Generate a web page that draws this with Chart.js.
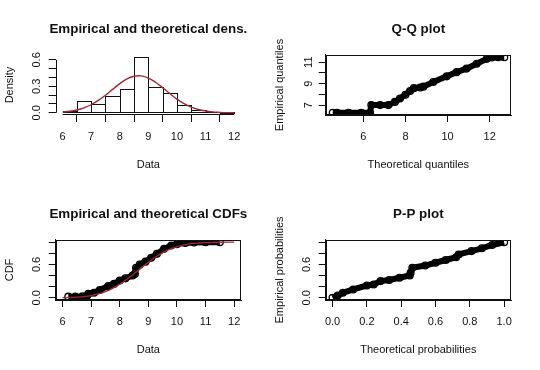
<!DOCTYPE html>
<html>
<head>
<meta charset="utf-8">
<script src="https://cdn.jsdelivr.net/npm/chart.js@4.4.1/dist/chart.umd.min.js"></script>
<style>
  html, body { margin: 0; padding: 0; background: #fff; }
  #wrap { position: relative; width: 540px; height: 370px; background: #fff; }
  canvas { position: absolute; }
</style>
</head>
<body>
<div id="wrap">
  <canvas id="c1" width="270" height="185" style="left:0;top:0"></canvas>
  <canvas id="c2" width="270" height="185" style="left:270px;top:0"></canvas>
  <canvas id="c3" width="270" height="185" style="left:0;top:185px"></canvas>
  <canvas id="c4" width="270" height="185" style="left:270px;top:185px"></canvas>
</div>
<script>
// ---------- Panel 1: histogram + theoretical density ----------
const histBinCenters = [6.25, 6.75, 7.25, 7.75, 8.25, 8.75, 9.25, 9.75, 10.25, 10.75, 11.25, 11.75];
const histDensity    = [0.016, 0.129, 0.098, 0.186, 0.265, 0.630, 0.288, 0.227, 0.084, 0.031, 0.010, 0];
const densCurveX = [6, 6.25, 6.5, 6.75, 7, 7.25, 7.5, 7.75, 8, 8.25, 8.5, 8.75, 9, 9.25, 9.5, 9.75, 10, 10.25, 10.5, 10.75, 11, 11.25, 11.5, 11.75, 12];
const densCurveY = [0.008, 0.017, 0.032, 0.056, 0.091, 0.140, 0.199, 0.265, 0.330, 0.383, 0.414, 0.418, 0.394, 0.346, 0.284, 0.218, 0.155, 0.104, 0.064, 0.037, 0.020, 0.010, 0.005, 0.002, 0.001];
const densXTicks  = [6, 7, 8, 9, 10, 11, 12];
const densXLabels = ['6', '7', '8', '9', '10', '11', '12'];
const densYTicks  = [0, 0.1, 0.2, 0.3, 0.4, 0.5, 0.6];
const densYLabels = ['0.0', '', '', '0.3', '', '', '0.6'];

// ---------- Panel 2: Q-Q plot ----------
const qqTheoretical = [4.55, 4.75, 5.3, 5.9, 6.32, 6.38, 6.8, 7.19, 7.5, 7.74, 8.0, 8.22, 8.4, 8.7, 8.85, 9.32, 9.96, 10.43, 10.9, 11.38, 11.86, 12.1, 12.4, 12.69];
const qqEmpirical   = [6.29, 6.29, 6.29, 6.29, 6.29, 7.0, 7.0, 7.0, 7.3, 7.62, 7.97, 8.32, 8.58, 8.64, 8.72, 9.15, 9.68, 10.07, 10.4, 10.85, 11.31, 11.44, 11.46, 11.46];
const qqXTicks  = [6, 8, 10, 12];
const qqXLabels = ['6', '8', '10', '12'];
const qqYTicks  = [7, 8, 9, 10, 11];
const qqYLabels = ['7', '', '9', '', '11'];

// ---------- Panel 3: empirical and theoretical CDFs ----------
const cdfEmpX = [6.2, 6.45, 6.7, 6.85, 6.9, 7.1, 7.3, 7.6, 7.8, 8.0, 8.2, 8.45, 8.53, 8.57, 8.7, 8.9, 9.1, 9.3, 9.55, 9.8, 10.0, 10.3, 10.6, 11.0, 11.5];
const cdfEmpY = [0.02, 0.02, 0.025, 0.03, 0.07, 0.09, 0.14, 0.21, 0.25, 0.31, 0.35, 0.40, 0.43, 0.54, 0.60, 0.65, 0.72, 0.79, 0.88, 0.94, 0.965, 0.985, 0.995, 1.0, 1.0];
const cdfTheoX = [6, 6.25, 6.5, 6.75, 7, 7.25, 7.5, 7.75, 8, 8.25, 8.5, 8.75, 9, 9.25, 9.5, 9.75, 10, 10.25, 10.5, 10.75, 11, 11.5, 12];
const cdfTheoY = [0.003, 0.006, 0.012, 0.022, 0.040, 0.069, 0.111, 0.169, 0.244, 0.333, 0.433, 0.538, 0.640, 0.733, 0.812, 0.874, 0.921, 0.953, 0.974, 0.986, 0.993, 0.999, 1.0];
const cdfXTicks  = [6, 7, 8, 9, 10, 11, 12];
const cdfXLabels = ['6', '7', '8', '9', '10', '11', '12'];
const probYTicks  = [0, 0.2, 0.4, 0.6, 0.8, 1.0];
const probYLabels = ['0.0', '', '', '0.6', '', ''];

// ---------- Panel 4: P-P plot ----------
const ppTheoretical = [0, 0.03, 0.06, 0.12, 0.2, 0.24, 0.28, 0.33, 0.39, 0.45, 0.455, 0.465, 0.54, 0.6, 0.66, 0.72, 0.735, 0.81, 0.87, 0.93, 1.0];
const ppEmpirical   = [0, 0.04, 0.09, 0.15, 0.22, 0.24, 0.30, 0.32, 0.36, 0.40, 0.45, 0.54, 0.58, 0.63, 0.68, 0.73, 0.78, 0.84, 0.89, 0.95, 1.0];
const ppXTicks  = [0, 0.2, 0.4, 0.6, 0.8, 1.0];
const ppXLabels = ['0.0', '0.2', '0.4', '0.6', '0.8', '1.0'];

// ---------- titles ----------
const titles = ['Empirical and theoretical dens.', 'Q-Q plot', 'Empirical and theoretical CDFs', 'P-P plot'];
const xTitles = ['Data', 'Theoretical quantiles', 'Data', 'Theoretical probabilities'];
const yTitles = ['Density', 'Empirical quantiles', 'CDF', 'Empirical probabilities'];

// ---------- style ----------
const FONT = '"Liberation Sans", Arial, Helvetica, sans-serif';
const INK = '#111';
const RED = '#A0283A';

const toXY = (xs, ys) => xs.map((x, i) => ({ x: x, y: ys[i] }));

// lets the (plot-centred) title text run wider than the plot area without being squeezed
const titleWidenPlugin = {
  id: 'titleWiden',
  afterLayout(chart) {
    const tb = chart.titleBlock;
    if (tb) { tb.left -= 30; tb.right += 30; tb.width += 60; }
  }
};

const boxPlugin = {
  id: 'rbox',
  afterDraw(chart) {
    const a = chart.chartArea, ctx = chart.ctx;
    ctx.save();
    ctx.strokeStyle = INK; ctx.lineWidth = 1;
    ctx.strokeRect(Math.round(a.left) + 0.5, Math.round(a.top) + 0.5, Math.round(a.right - a.left) - 1, Math.round(a.bottom - a.top) - 1);
    ctx.restore();
  }
};

const axisLinePlugin = {
  id: 'raxis',
  afterDraw(chart) {
    const ctx = chart.ctx, a = chart.chartArea;
    const xs = chart.scales.x, ys = chart.scales.y;
    const xt = xs.ticks, yt = ys.ticks;
    ctx.save();
    ctx.strokeStyle = INK; ctx.lineWidth = 1;
    ctx.beginPath();
    const by = Math.round(a.bottom) - 0.5;
    ctx.moveTo(xs.getPixelForValue(xt[0].value), by);
    ctx.lineTo(xs.getPixelForValue(xt[xt.length - 1].value), by);
    const lx = Math.round(a.left) + 0.5;
    ctx.moveTo(lx, ys.getPixelForValue(yt[0].value));
    ctx.lineTo(lx, ys.getPixelForValue(yt[yt.length - 1].value));
    ctx.stroke();
    ctx.restore();
  }
};

// outlines each histogram bar (geometry taken from the bar elements Chart.js laid out)
const barOutlinePlugin = {
  id: 'barOutline',
  afterDatasetDraw(chart, args) {
    if (args.meta.type !== 'bar') return;
    const ctx = chart.ctx;
    ctx.save();
    ctx.strokeStyle = INK; ctx.lineWidth = 1;
    args.meta.data.forEach(el => {
      const p = el.getProps(['x', 'y', 'base', 'width'], true);
      const l = Math.round(p.x - p.width / 2) + 0.5;
      const r = Math.round(p.x + p.width / 2) + 0.5;
      const t = Math.round(Math.min(p.y, p.base)) + 0.5;
      const b = Math.round(Math.max(p.y, p.base)) + 0.5;
      ctx.strokeRect(l, t, r - l, b - t);
    });
    ctx.restore();
  }
};

function makeOptions(p) {
  return {
    responsive: false,
    animation: false,
    devicePixelRatio: 1,
    layout: { padding: { left: 0, right: 29, top: 0, bottom: 0 } },
    plugins: {
      legend: { display: false },
      tooltip: { enabled: false },
      title: {
        display: true, text: p.title, color: INK, fullSize: false,
        font: { family: FONT, size: 13.4, weight: 'bold' },
        padding: { top: 21.6, bottom: 17.3 }
      }
    },
    scales: {
      x: {
        type: 'linear', min: p.xmin, max: p.xmax, offset: false,
        afterBuildTicks: s => { s.ticks = p.xticks.map(v => ({ value: v })); },
        afterFit: s => { s.height = 70; },
        grid: { display: true, drawOnChartArea: false, drawTicks: true, tickLength: 7, color: INK, lineWidth: 1 },
        border: { display: !p.noBorder, color: INK },
        ticks: {
          autoSkip: false, maxRotation: 0, minRotation: 0, padding: 8.5, color: INK,
          font: { family: FONT, size: 11 },
          callback: (v, i) => p.xlabels[i]
        },
        title: { display: true, text: p.xtitle, color: INK, font: { family: FONT, size: 11 }, padding: { top: 0, bottom: 13 } }
      },
      y: {
        type: 'linear', min: p.ymin, max: p.ymax,
        afterBuildTicks: s => { s.ticks = p.yticks.map(v => ({ value: v })); },
        afterFit: s => { s.width = 55.7; },
        grid: { display: true, drawOnChartArea: false, drawTicks: true, tickLength: 7, color: INK, lineWidth: 1 },
        border: { display: !p.noBorder, color: INK },
        ticks: {
          autoSkip: false, minRotation: 90, maxRotation: 90, crossAlign: 'center', padding: 4.4, color: INK,
          font: { family: FONT, size: 11 },
          callback: (v, i) => p.ylabels[i]
        },
        title: { display: true, text: p.ytitle, color: INK, font: { family: FONT, size: 11 }, padding: { top: 3.5, bottom: 0 } }
      }
    }
  };
}

// Panel 1
new Chart(document.getElementById('c1'), {
  type: 'bar',
  data: {
    datasets: [
      {
        type: 'line', data: toXY(densCurveX, densCurveY), borderColor: RED, borderWidth: 1.4,
        pointRadius: 0, tension: 0.4, fill: false, order: 0
      },
      {
        type: 'bar', data: toXY(histBinCenters, histDensity), backgroundColor: 'rgba(255,255,255,0)',
        borderWidth: 0, barPercentage: 1, categoryPercentage: 1, minBarLength: 1, order: 1
      }
    ]
  },
  options: makeOptions({
    title: titles[0], xtitle: xTitles[0], ytitle: yTitles[0],
    xmin: 5.76, xmax: 12.24, ymin: -0.0252, ymax: 0.6552,
    xticks: densXTicks, xlabels: densXLabels, yticks: densYTicks, ylabels: densYLabels, noBorder: true
  }),
  plugins: [titleWidenPlugin, barOutlinePlugin, axisLinePlugin]
});

const bandStyle = {
  borderColor: '#000', borderWidth: 6, showLine: true, tension: 0,
  pointRadius: 3.4, pointBorderWidth: 1.3, pointBorderColor: '#000', pointBackgroundColor: 'rgba(255,255,255,0)'
};

// Panel 2
new Chart(document.getElementById('c2'), {
  type: 'scatter',
  data: { datasets: [Object.assign({ data: toXY(qqTheoretical, qqEmpirical) }, bandStyle)] },
  options: makeOptions({
    title: titles[1], xtitle: xTitles[1], ytitle: yTitles[1],
    xmin: 4.215, xmax: 13.01, ymin: 6.08, ymax: 11.67,
    xticks: qqXTicks, xlabels: qqXLabels, yticks: qqYTicks, ylabels: qqYLabels
  }),
  plugins: [titleWidenPlugin, boxPlugin]
});

// Panel 3
new Chart(document.getElementById('c3'), {
  type: 'scatter',
  data: {
    datasets: [
      Object.assign({ data: toXY(cdfEmpX, cdfEmpY), order: 1 }, bandStyle),
      { data: toXY(cdfTheoX, cdfTheoY), showLine: true, borderColor: RED, borderWidth: 1.3, pointRadius: 0, tension: 0.4, order: 0 }
    ]
  },
  options: makeOptions({
    title: titles[2], xtitle: xTitles[2], ytitle: yTitles[2],
    xmin: 5.76, xmax: 12.24, ymin: -0.04, ymax: 1.04,
    xticks: cdfXTicks, xlabels: cdfXLabels, yticks: probYTicks, ylabels: probYLabels
  }),
  plugins: [titleWidenPlugin, boxPlugin]
});

// Panel 4
new Chart(document.getElementById('c4'), {
  type: 'scatter',
  data: { datasets: [Object.assign({ data: toXY(ppTheoretical, ppEmpirical) }, bandStyle)] },
  options: makeOptions({
    title: titles[3], xtitle: xTitles[3], ytitle: yTitles[3],
    xmin: -0.04, xmax: 1.04, ymin: -0.04, ymax: 1.04,
    xticks: ppXTicks, xlabels: ppXLabels, yticks: probYTicks, ylabels: probYLabels
  }),
  plugins: [titleWidenPlugin, boxPlugin]
});
</script>
</body>
</html>
